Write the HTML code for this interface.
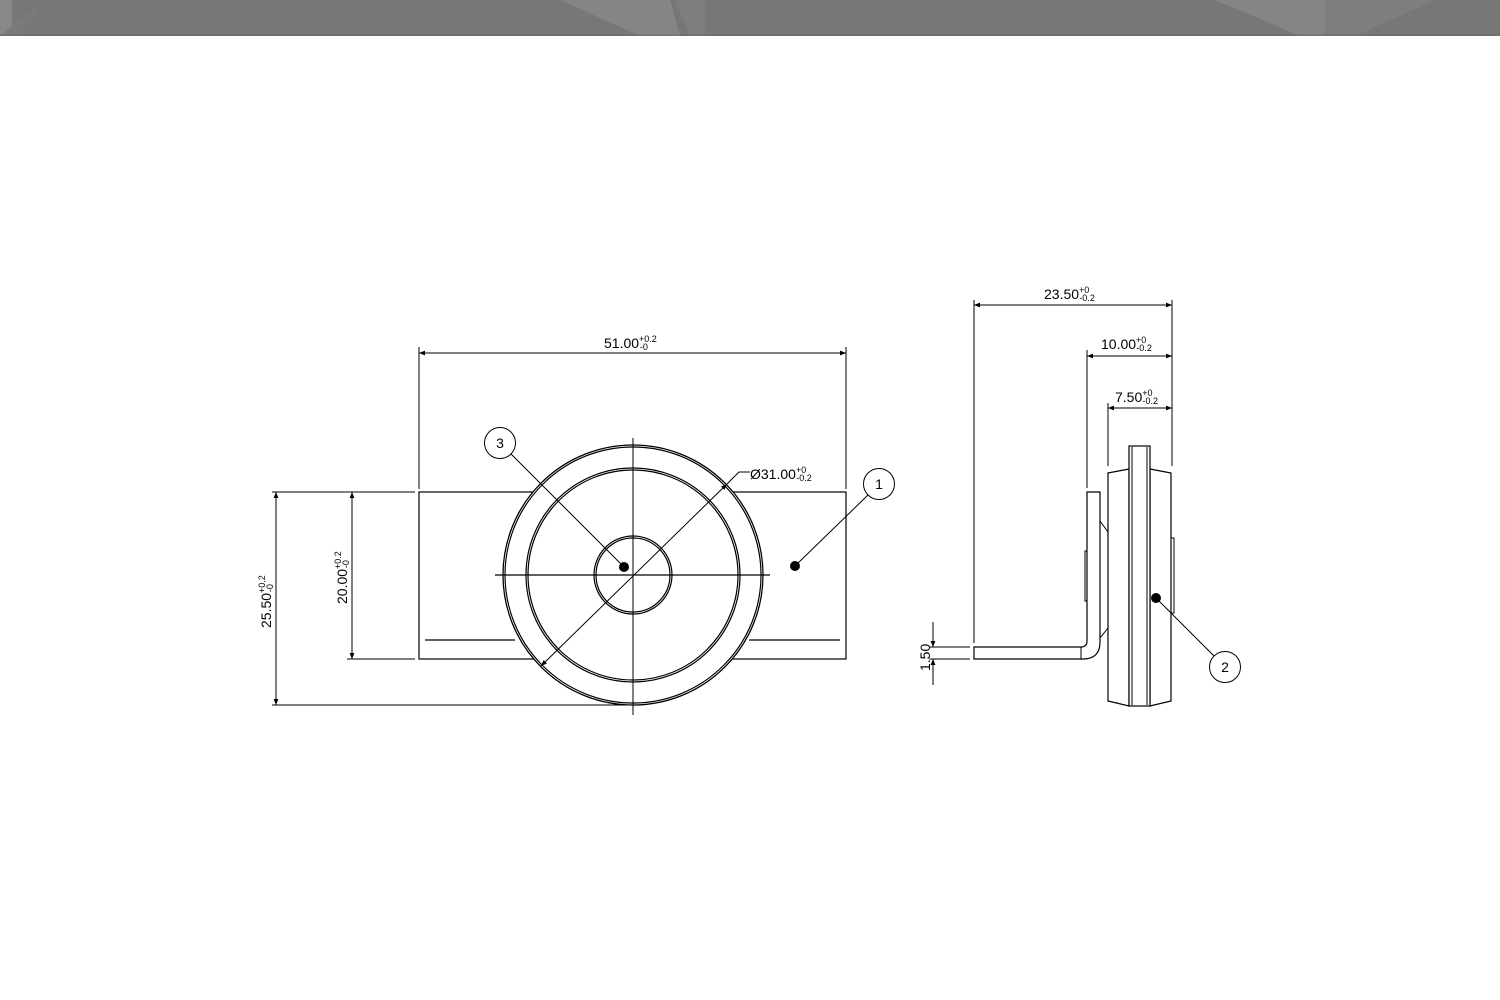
<!DOCTYPE html>
<html><head><meta charset="utf-8"><style>
html,body{margin:0;padding:0;background:#fff;width:1500px;height:1000px;overflow:hidden}
svg{display:block}
text{font-family:"Liberation Sans",Arial,sans-serif;fill:#000}
</style></head><body>
<svg width="1500" height="1000" viewBox="0 0 1500 1000" xmlns="http://www.w3.org/2000/svg">
<defs>
<marker id="a" viewBox="0 0 10 10" refX="10" refY="5" markerWidth="12" markerHeight="6" markerUnits="userSpaceOnUse" orient="auto-start-reverse"><path d="M0,1 L10,5 L0,9 z" fill="#000"/></marker>
</defs>
<!-- header -->
<rect x="0" y="0" width="1500" height="36" fill="#777"/>
<polygon points="0,0 12,0 12,36 0,36" fill="#888"/>
<polygon points="45,0 0,36 20,36 45,0" fill="#7a7a7a"/>
<polygon points="560,0 640,36 680,36 670,0" fill="#858585"/>
<polygon points="675,0 705,0 705,36 690,36" fill="#7e7e7e"/>
<polygon points="1215,0 1300,36 1330,36 1325,0" fill="#858585"/>
<polygon points="1325,0 1435,0 1355,36 1325,36" fill="#7e7e7e"/>
<line x1="0" y1="35" x2="1500" y2="35" stroke="#6a6a6a"/>

<g stroke="#000" fill="none" stroke-width="1.2">
<!-- front view rectangle -->
<rect x="419" y="492" width="427" height="167"/>
<line x1="425" y1="640" x2="515" y2="640"/>
<line x1="749" y1="640" x2="840" y2="640"/>
<circle cx="633" cy="575" r="130" fill="#fff" stroke-width="1.3"/>
<circle cx="633" cy="575" r="128"/>
<circle cx="633" cy="575" r="107"/>
<circle cx="633" cy="575" r="105"/>
<circle cx="633" cy="575" r="39"/>
<circle cx="633" cy="575" r="37"/>
<line x1="633" y1="438" x2="633" y2="715" stroke-width="1"/>
<line x1="495" y1="575" x2="770" y2="575" stroke-width="1.3"/>
<!-- diameter leader -->
<line x1="541" y1="666" x2="727" y2="484" stroke-width="1" marker-start="url(#a)" marker-end="url(#a)"/>
<polyline points="727,484 739,472 750,472" stroke-width="1"/>
<!-- 51 dim -->
<line x1="419" y1="347" x2="419" y2="489" stroke-width="1"/>
<line x1="846" y1="347" x2="846" y2="489" stroke-width="1"/>
<line x1="419" y1="353" x2="846" y2="353" stroke-width="1" marker-start="url(#a)" marker-end="url(#a)"/>
<!-- left dims -->
<line x1="272" y1="492" x2="415" y2="492" stroke-width="1"/>
<line x1="272" y1="705" x2="633" y2="705" stroke-width="1"/>
<line x1="347" y1="659" x2="415" y2="659" stroke-width="1"/>
<line x1="276" y1="492" x2="276" y2="705" stroke-width="1" marker-start="url(#a)" marker-end="url(#a)"/>
<line x1="352" y1="492" x2="352" y2="659" stroke-width="1" marker-start="url(#a)" marker-end="url(#a)"/>
<!-- balloons front -->
<circle cx="500" cy="443" r="15.5" stroke-width="1"/>
<line x1="511" y1="454" x2="624" y2="567" stroke-width="1"/>
<circle cx="879" cy="484" r="15.5" stroke-width="1"/>
<line x1="868" y1="495" x2="795" y2="566" stroke-width="1"/>

<!-- side view -->
<line x1="974" y1="300" x2="974" y2="643" stroke-width="1"/>
<line x1="1172" y1="300" x2="1172" y2="466" stroke-width="1"/>
<line x1="974" y1="305" x2="1172" y2="305" stroke-width="1" marker-start="url(#a)" marker-end="url(#a)"/>
<line x1="1087" y1="350" x2="1087" y2="488" stroke-width="1"/>
<line x1="1087" y1="356" x2="1172" y2="356" stroke-width="1" marker-start="url(#a)" marker-end="url(#a)"/>
<line x1="1108" y1="403" x2="1108" y2="466" stroke-width="1"/>
<line x1="1108" y1="408" x2="1172" y2="408" stroke-width="1" marker-start="url(#a)" marker-end="url(#a)"/>
<!-- bracket -->
<path d="M974,647 H1081 Q1087,647 1087,641 V492 H1100 V642 Q1100,659 1083,659 H974 Z"/>
<line x1="1081" y1="647" x2="1081" y2="659" stroke-width="1"/>
<line x1="945" y1="647" x2="970" y2="647" stroke-width="1"/>
<line x1="945" y1="659" x2="970" y2="659" stroke-width="1"/>
<rect x="1085" y="551" width="2" height="50" stroke-width="1"/>
<polyline points="1100,521 1108,532 1108,628 1100,638" stroke-width="1"/>
<!-- body -->
<path d="M1108,473 L1129,469 L1129,706 L1108,701 Z M1150,469 L1171,473 L1171,701 L1150,706 Z" fill="#fff"/>
<rect x="1129" y="446" width="21" height="260" fill="#fff"/>
<line x1="1132" y1="447" x2="1132" y2="705" stroke-width="1"/>
<line x1="1147" y1="447" x2="1147" y2="705" stroke-width="1"/>
<rect x="1171" y="538" width="3" height="75" stroke-width="1"/>
<!-- 1.50 dim -->
<line x1="929" y1="647" x2="945" y2="647" stroke-width="1"/>
<line x1="929" y1="659" x2="945" y2="659" stroke-width="1"/>
<line x1="933" y1="622" x2="933" y2="647" stroke-width="1" marker-end="url(#a)"/>
<line x1="933" y1="685" x2="933" y2="659" stroke-width="1" marker-end="url(#a)"/>
<!-- balloon 2 -->
<circle cx="1225" cy="667" r="15.5" stroke-width="1"/>
<line x1="1214" y1="656" x2="1156" y2="598" stroke-width="1"/>
</g>
<circle cx="624" cy="567" r="5" fill="#000"/>
<circle cx="795" cy="566" r="5" fill="#000"/>
<circle cx="1156" cy="598" r="5" fill="#000"/>

<g font-size="14">
<text x="604" y="348">51.00<tspan font-size="9" dy="-6">+0.2</tspan><tspan font-size="9" dx="-17" dy="8">-0</tspan></text>
<text x="750" y="479">Ø31.00<tspan font-size="9" dy="-6">+0</tspan><tspan font-size="9" dx="-10" dy="8">-0.2</tspan></text>
<text x="1044" y="299">23.50<tspan font-size="9" dy="-6">+0</tspan><tspan font-size="9" dx="-10" dy="8">-0.2</tspan></text>
<text x="1101" y="349">10.00<tspan font-size="9" dy="-6">+0</tspan><tspan font-size="9" dx="-10" dy="8">-0.2</tspan></text>
<text x="1115" y="402">7.50<tspan font-size="9" dy="-6">+0</tspan><tspan font-size="9" dx="-10" dy="8">-0.2</tspan></text>
<text transform="translate(271,628) rotate(-90)">25.50<tspan font-size="9" dy="-6">+0.2</tspan><tspan font-size="9" dx="-17" dy="8">-0</tspan></text>
<text transform="translate(347,604) rotate(-90)">20.00<tspan font-size="9" dy="-6">+0.2</tspan><tspan font-size="9" dx="-17" dy="8">-0</tspan></text>
<text transform="translate(930,671) rotate(-90)">1.50</text>
<text x="500" y="448" text-anchor="middle">3</text>
<text x="879" y="489" text-anchor="middle">1</text>
<text x="1225" y="672" text-anchor="middle">2</text>
</g>
</svg>
</body></html>
